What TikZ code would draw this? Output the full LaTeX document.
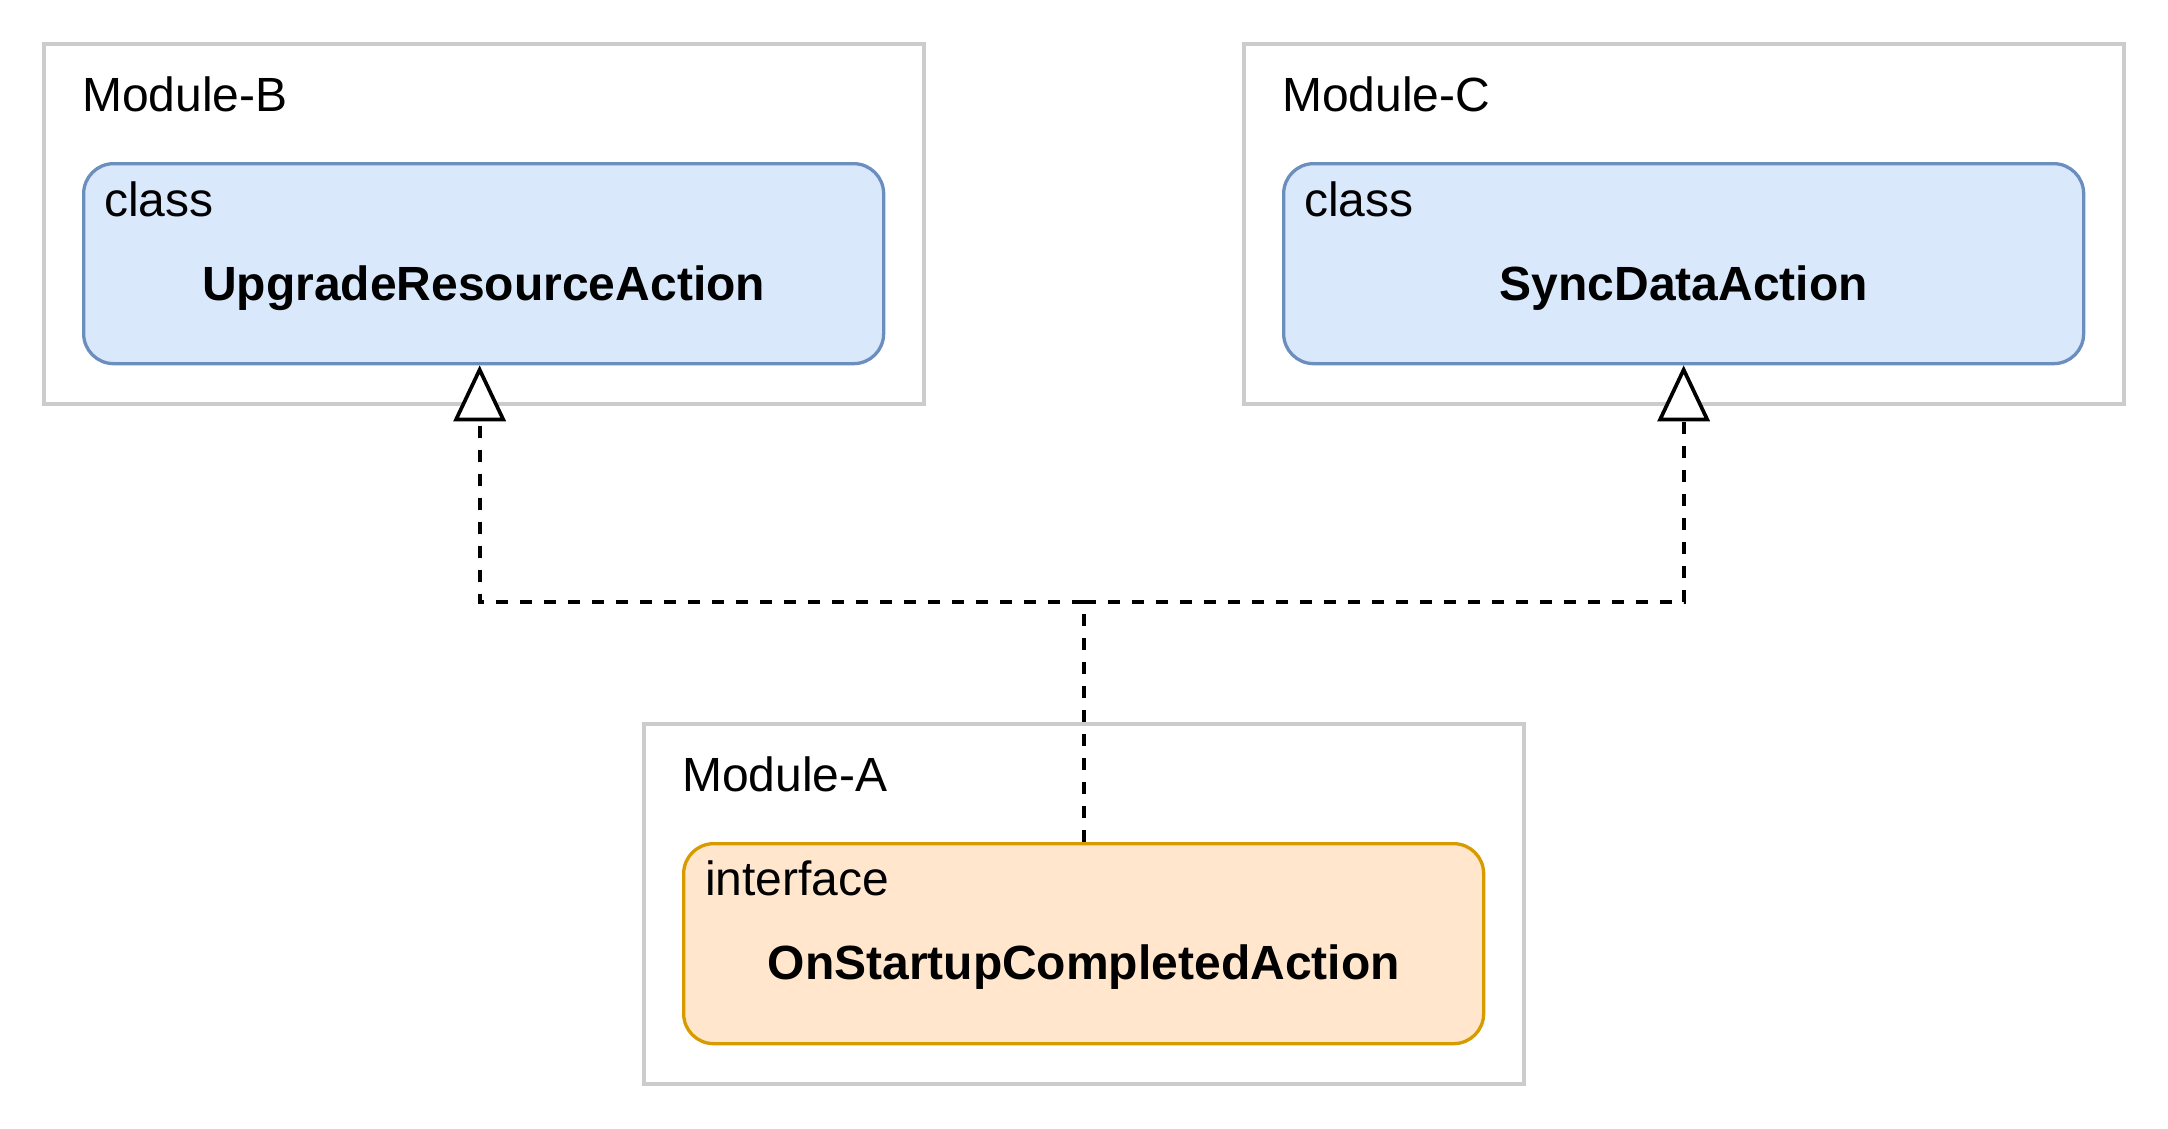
\documentclass[tikz,border=0pt]{standalone}
\usepackage{fontspec}
\setmainfont{Liberation Sans}
\usetikzlibrary{arrows.meta,calc}
\definecolor{modgray}{HTML}{CCCCCC}
\definecolor{bluefill}{HTML}{DAE8FC}
\definecolor{blueline}{HTML}{6C8EBF}
\definecolor{orangefill}{HTML}{FFE6CC}
\definecolor{orangeline}{HTML}{D79B00}
\begin{document}
\begin{tikzpicture}[x=1pt,y=-1pt,
  modbox/.style={draw=modgray, line width=3.5pt, fill=white, minimum width=880pt, minimum height=360pt, inner sep=0pt, anchor=north west},
  classbox/.style={draw=blueline, fill=bluefill, line width=3.3pt, rounded corners=30pt, minimum width=800pt, minimum height=200pt, inner sep=0pt, anchor=north west},
  ifacebox/.style={classbox, draw=orangeline, fill=orangefill},
  modlabel/.style={anchor=base west, inner sep=0pt, font=\fontsize{48}{58}\selectfont},
  kindlabel/.style={modlabel},
  titlelabel/.style={anchor=base, inner sep=0pt, font=\fontsize{48}{58}\selectfont\bfseries},
  dep/.style={line width=3.7pt, dash pattern=on 12pt off 12pt},
  realize/.style={dep, -{Triangle[length=56pt, width=52pt, fill=white]}}
]
\useasboundingbox[fill=white] (0,0) rectangle (2168,1128);

% modules
\node[modbox] (modB) at (42,42) {};
\node[modbox] (modC) at (1242,42) {};
\node[modbox] (modA) at (642,722) {};

\node[modlabel] (labB) at ($(modB.north west)+(40,69.5)$) {Module-B};
\node[modlabel] (labC) at ($(modC.north west)+(40,69.5)$) {Module-C};
\node[modlabel] (labA) at ($(modA.north west)+(40,69.5)$) {Module-A};

% classes / interface
\node[classbox] (clsB) at (82,162) {};
\node[classbox] (clsC) at (1282,162) {};
\node[ifacebox] (ifA) at (682,842) {};

\node[kindlabel] (kB) at ($(clsB.north west)+(22,54.3)$) {class};
\node[kindlabel] (kC) at ($(clsC.north west)+(22,54.3)$) {class};
\node[kindlabel] (kA) at ($(ifA.north west)+(23,53)$) {interface};

\node[titlelabel] (tB) at ($(clsB.north)+(0,138.3)$) {UpgradeResourceAction};
\node[titlelabel] (tC) at ($(clsC.north)+(0,138.3)$) {SyncDataAction};
\node[titlelabel] (tA) at ($(ifA.north)+(0,137.5)$) {OnStartupCompletedAction};

% connectors
\coordinate (j) at ($(ifA.north)+(0,-240)$);
\coordinate (tipB) at ($(clsB.south)+(-4,0)$);
\draw[dep] (ifA.north) -- (j);
\draw[realize] (j) -| (tipB);
\draw[realize] (j) -| (clsC.south);
\end{tikzpicture}
\end{document}
